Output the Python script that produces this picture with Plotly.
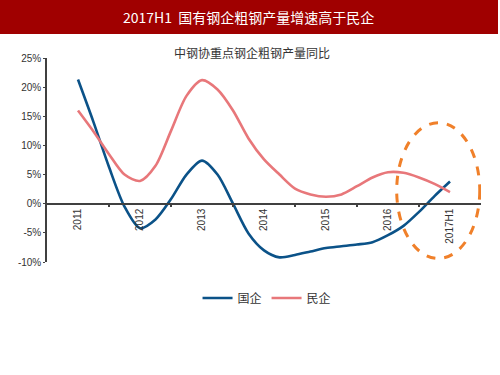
import plotly.graph_objects as go

periods = [0, 0.25, 0.5, 0.75, 1.0, 1.25, 1.5, 1.75, 2.0, 2.25, 2.5, 2.75, 3.0,
           3.25, 3.5, 3.75, 4.0, 4.25, 4.5, 4.75, 5.0, 5.25, 5.5, 5.75, 6.0]
soe = [21.3, 14.0, 6.3, -0.5, -4.2, -2.7, 0.8, 5.0, 7.4, 5.0, 0.0, -5.1, -8.0,
       -9.2, -8.8, -8.2, -7.6, -7.3, -7.0, -6.6, -5.4, -3.8, -1.4, 1.3, 3.8]
private = [16.0, 12.4, 8.5, 5.0, 3.9, 6.5, 12.5, 18.5, 21.2, 19.6, 16.0, 11.2, 7.6,
           5.0, 2.6, 1.6, 1.2, 1.6, 3.0, 4.5, 5.4, 5.3, 4.5, 3.4, 2.0]
tick_pos = [0, 1, 2, 3, 4, 5, 6]
tick_labels = ["2011", "2012", "2013", "2014", "2015", "2016", "2017H1"]
y_ticks = [-10, -5, 0, 5, 10, 15, 20, 25]
y_labels = ["-10%", "-5%", "0%", "5%", "10%", "15%", "20%", "25%"]

tick_font = dict(family="Liberation Sans Narrow, Arial Narrow, Liberation Sans, Arial", size=10, color="#333333")
cjk = "Noto Sans CJK SC, Microsoft YaHei, sans-serif"

PH = 204.0  # plot height px
PW = 434.0  # plot width px

fig = go.Figure()
fig.add_trace(go.Scatter(x=periods, y=soe, mode="lines", name="国企",
                         line=dict(color="#0b5288", width=2.6, shape="spline", smoothing=0.8)))
fig.add_trace(go.Scatter(x=periods, y=private, mode="lines", name="民企",
                         line=dict(color="#e8777a", width=2.6, shape="spline", smoothing=0.8)))

# highlight ellipse
fig.add_shape(type="circle", xref="x", yref="y", x0=5.14, x1=6.48, y0=-9.4, y1=13.9,
              line=dict(color="#f0802a", width=3, dash="dash"), layer="above")

# title bar
fig.add_shape(type="rect", xref="paper", yref="paper", x0=-47/PW, x1=451/PW,
              y0=1 + (58-34)/PH, y1=1 + 60/PH,
              line=dict(width=0), fillcolor="#a00000", layer="below")
fig.add_annotation(text="2017H1  国有钢企粗钢产量增速高于民企", xref="paper", yref="paper",
                   x=(248-47)/PW, y=1 + (58-17)/PH, showarrow=False,
                   font=dict(family=cjk, size=14, color="white"), xanchor="center", yanchor="middle")
fig.add_annotation(text="中钢协重点钢企粗钢产量同比", xref="paper", yref="paper",
                   x=(252-47)/PW, y=1 + (58-52)/PH, showarrow=False,
                   font=dict(family=cjk, size=12, color="#333333"), xanchor="center", yanchor="middle")

fig.update_layout(
    width=500, height=375,
    margin=dict(l=47, r=19, t=58, b=113),
    plot_bgcolor="white", paper_bgcolor="white",
    showlegend=True,
    legend=dict(orientation="h", x=0.507, xanchor="center", y=-36/PH, yanchor="middle",
                font=dict(family=cjk, size=12, color="#333333"), itemwidth=30,
                bgcolor="rgba(0,0,0,0)"),
    xaxis=dict(range=[-0.5, 6.5], tickvals=tick_pos, ticktext=tick_labels, tickangle=-90,
               showgrid=False, zeroline=False, showline=True, linecolor="#404040", linewidth=2,
               anchor="free", position=10/35, ticks="", tickfont=tick_font,
               minor=dict(tickvals=[0.5, 1.5, 2.5, 3.5, 4.5, 5.5], ticks="outside", ticklen=2,
                          tickcolor="#404040", tickwidth=1.5)),
    yaxis=dict(range=[-10, 25], tickvals=y_ticks, ticktext=y_labels, showgrid=False,
               zeroline=False, showline=True, linecolor="#404040", linewidth=1.5,
               ticks="outside", ticklen=2, tickcolor="#404040", tickfont=tick_font, domain=[0, 1]),
)
fig.write_html("out.html", post_script="document.body.style.margin='0';",
               config={"displayModeBar": False})
